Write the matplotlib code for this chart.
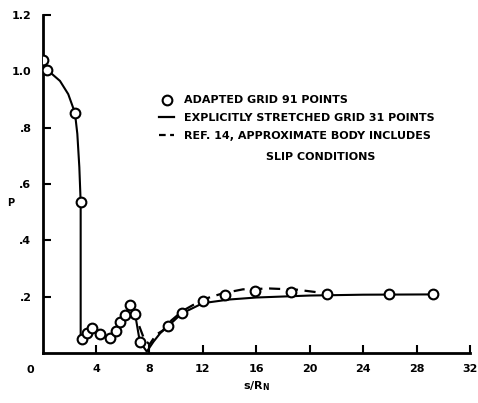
import matplotlib
matplotlib.use("Agg")
import matplotlib.pyplot as plt
from matplotlib.lines import Line2D
import matplotlib.transforms as mtransforms

# --- data ---
adapted_x = [0.0, 0.35, 2.42, 2.85, 2.93, 3.30, 3.72, 4.30, 5.04, 5.47, 5.79, 6.17, 6.54, 6.92, 7.28,
             9.41, 10.41, 12.04, 13.65, 15.9, 18.6, 21.27, 25.9, 29.24]
adapted_y = [1.04, 1.005, 0.853, 0.535, 0.048, 0.072, 0.087, 0.066, 0.054, 0.079, 0.109, 0.135, 0.170, 0.140, 0.040,
             0.096, 0.142, 0.184, 0.207, 0.219, 0.217, 0.211, 0.210, 0.208]

stretched_x = [0.0, 0.35, 1.3, 1.92, 2.42, 2.6, 2.75, 2.85, 2.85, 2.93, 3.30, 3.72, 4.30, 5.04, 5.47, 5.79,
               6.17, 6.54, 6.92, 7.28, 7.8, 8.3, 8.8, 9.41, 10.41, 12.0, 14.0, 16.0, 20.0, 24.0, 29.24]
stretched_y = [1.04, 1.005, 0.966, 0.919, 0.853, 0.778, 0.66, 0.535, 0.05, 0.048, 0.072, 0.087, 0.066, 0.054,
               0.079, 0.109, 0.135, 0.170, 0.140, 0.040, 0.005, 0.04, 0.07, 0.096, 0.140, 0.177, 0.190, 0.197, 0.204,
               0.207, 0.208]

ref14_x = [6.8, 7.2, 7.6, 8.0, 8.5, 9.0, 9.5, 10.5, 12.0, 13.5, 15.0, 17.0, 19.0, 21.0]
ref14_y = [0.155, 0.10, 0.05, 0.03, 0.065, 0.08, 0.11, 0.15, 0.19, 0.212, 0.226, 0.229, 0.225, 0.213]

xticks = [4, 8, 12, 16, 20, 24, 28, 32]
xtick_labels = ["4", "8", "12", "16", "20", "24", "28", "32"]
yticks = [0.2, 0.4, 0.6, 0.8, 1.0, 1.2]
ytick_labels = [".2", ".4", ".6", ".8", "1.0", "1.2"]

legend_labels = ["ADAPTED GRID 91 POINTS", "EXPLICITLY STRETCHED GRID 31 POINTS",
                 "REF. 14, APPROXIMATE BODY INCLUDES"]
legend_extra = "SLIP CONDITIONS"

fig = plt.figure(figsize=(4.78, 4.03), dpi=100)
ax = fig.add_axes([42.6 / 478, 50 / 403, (470 - 42.6) / 478, 338 / 403])

ax.plot(stretched_x, stretched_y, color="black", lw=1.5, zorder=2)
ax.plot(ref14_x, ref14_y, color="black", lw=1.6, dashes=(5, 3), zorder=2)
ax.plot(adapted_x, adapted_y, linestyle="none", marker="o", ms=7, mfc="white", mec="black", mew=1.5, zorder=3)

ax.set_xlim(0, 32)
ax.set_ylim(0, 1.2)
for s in ["top", "right"]:
    ax.spines[s].set_visible(False)
for s in ["left", "bottom"]:
    ax.spines[s].set_linewidth(2)

ax.set_xticks(xticks)
ax.set_xticklabels(xtick_labels, fontweight="bold", fontsize=8)
ax.set_yticks(yticks)
ax.set_yticklabels(ytick_labels, fontweight="bold", fontsize=8)
ax.tick_params(direction="in", length=6, width=1.5, pad=8)

# origin label "0"
trans = mtransforms.blended_transform_factory(ax.transData, ax.transAxes)
ax.text(-0.9, -0.035, "0", transform=trans, ha="center", va="top", fontweight="bold", fontsize=8)

ax.text(-0.075, 0.445, "P", transform=ax.transAxes, ha="center", va="center", fontweight="bold", fontsize=7)
ax.set_xlabel(r"s/R$_\mathbf{N}$", fontweight="bold", fontsize=8, labelpad=4)

handles = [Line2D([], [], linestyle="none", marker="o", ms=7, mfc="white", mec="black", mew=1.5),
           Line2D([], [], color="black", lw=1.6),
           Line2D([], [], color="black", lw=1.6, dashes=(3, 2))]
leg = ax.legend(handles, legend_labels, loc="upper left", bbox_to_anchor=(0.263, 0.775), frameon=False,
                prop={"weight": "bold", "size": 8}, handlelength=1.3, handletextpad=0.9, labelspacing=0.7,
                borderaxespad=0)
ax.text(0.651, 0.58, legend_extra, transform=ax.transAxes, ha="center", va="center",
        fontweight="bold", fontsize=8)

fig.savefig("out.png", dpi=100)
